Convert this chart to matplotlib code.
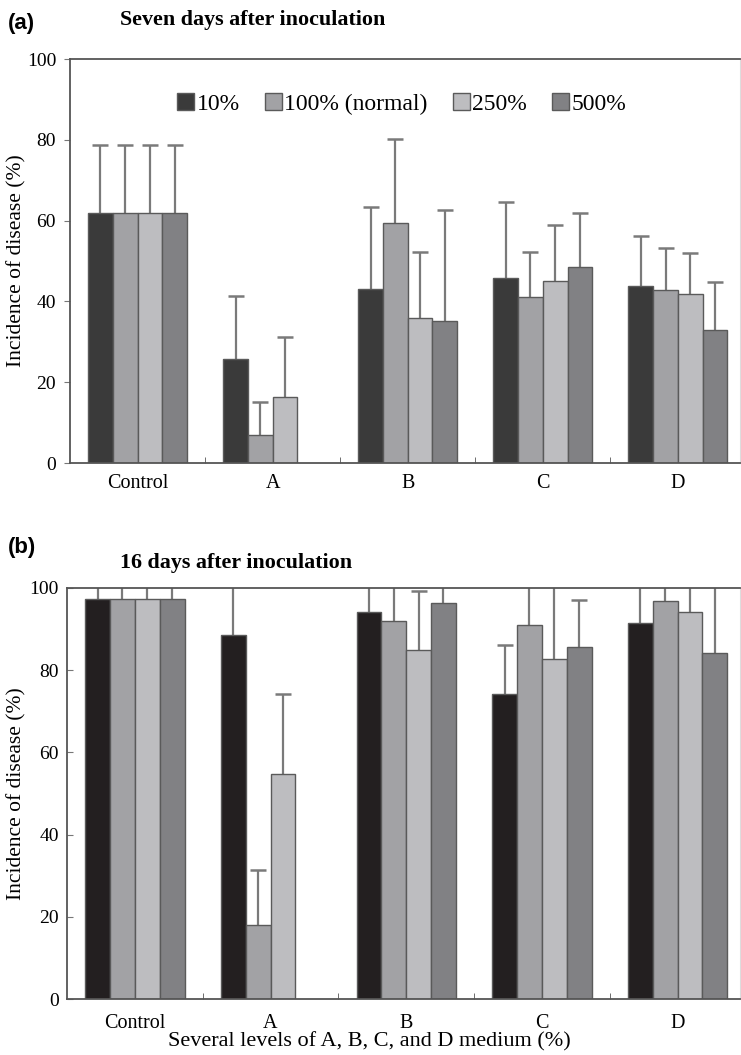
import matplotlib
matplotlib.use("Agg")
import matplotlib.pyplot as plt
import numpy as np
from matplotlib.patches import Patch

categories = ["Control", "A", "B", "C", "D"]
series = ["10%", "100% (normal)", "250%", "500%"]

# Panel (a): seven days after inoculation (NaN = no bar)
a_10 = [62.0, 25.7, 43.1, 45.7, 43.9]
a_100 = [62.0, 6.9, 59.5, 41.0, 42.9]
a_250 = [62.0, 16.3, 35.9, 45.1, 41.9]
a_500 = [62.0, np.nan, 35.2, 48.4, 32.8]
a_err_10 = [16.7, 15.7, 20.3, 18.9, 12.4]
a_err_100 = [16.7, 8.2, 20.6, 11.3, 10.4]
a_err_250 = [16.7, 15.0, 16.4, 13.9, 10.2]
a_err_500 = [16.7, np.nan, 27.4, 13.6, 11.9]

# Panel (b): 16 days after inoculation
b_10 = [97.4, 88.6, 94.2, 74.3, 91.4]
b_100 = [97.4, 17.9, 92.0, 91.0, 96.9]
b_250 = [97.4, 54.7, 84.9, 82.8, 94.2]
b_500 = [97.4, np.nan, 96.4, 85.6, 84.3]
b_err_10 = [12.0, 15.0, 10.0, 11.9, 12.0]
b_err_100 = [12.0, 13.4, 12.0, 12.0, 10.0]
b_err_250 = [12.0, 19.4, 14.4, 20.0, 10.0]
b_err_500 = [12.0, np.nan, 10.0, 11.6, 18.0]

yticks = [0, 20, 40, 60, 80, 100]

colors_a = ["#3a3a3a", "#a2a2a5", "#bdbdc0", "#818184"]
colors_b = ["#231f20", "#a2a2a5", "#bdbdc0", "#818184"]
edge = "#5a5a5a"
errc = "#7a7a7a"

serif = "Liberation Serif"

fig = plt.figure(figsize=(7.41, 10.55), dpi=100)
ax_a = fig.add_axes([70/741, 1-463/1055, 670/741, 404/1055])
ax_b = fig.add_axes([67/741, 1-999/1055, 673/741, 411/1055])

w = 0.183
offsets = np.array([-1.5, -0.5, 0.5, 1.5]) * w
x = np.arange(len(categories))

def draw(ax, vals, errs, colors, xpad):
    for i, (v, e) in enumerate(zip(vals, errs)):
        v = np.array(v, dtype=float)
        e = np.array(e, dtype=float)
        xs = x + offsets[i]
        ax.bar(xs, v, width=w, color=colors[i], edgecolor=edge,
               linewidth=1.0, zorder=2)
        ax.vlines(xs, v, v + e, colors=errc, linewidth=1.6, zorder=1)
        ax.plot(xs, v + e, linestyle="none", marker="_", markersize=11,
                markeredgewidth=1.8, color=errc, zorder=1)
    ax.set_xlim(-0.5, 4.46)
    ax.set_ylim(0, 100)
    ax.set_xticks(x)
    ax.set_xticklabels(categories, fontfamily=serif, fontsize=14.5)
    ax.set_xticks(x[:-1] + 0.5, minor=True)
    ax.tick_params(axis="x", which="major", length=0, pad=xpad)
    ax.tick_params(axis="x", which="minor", direction="in", length=4, color="#555555")
    ax.set_yticks(yticks)
    ax.set_yticklabels([str(t) for t in yticks], fontfamily=serif, fontsize=14)
    ax.tick_params(axis="y", length=4, color="#777777", pad=6)
    for s in ["left", "top", "bottom"]:
        ax.spines[s].set_color("#555555")
        ax.spines[s].set_linewidth(1.3)
    ax.spines["right"].set_color("#dddddd")
    ax.set_ylabel("Incidence of disease (%)", fontfamily=serif, fontsize=15.5)

draw(ax_a, [a_10, a_100, a_250, a_500], [a_err_10, a_err_100, a_err_250, a_err_500],
     colors_a, 8)
draw(ax_b, [b_10, b_100, b_250, b_500], [b_err_10, b_err_100, b_err_250, b_err_500],
     colors_b, 11)
ax_a.tick_params(axis="y", direction="out")
ax_b.tick_params(axis="y", direction="in")
ax_a.yaxis.set_label_coords(-44/670, 0.5)
ax_b.yaxis.set_label_coords(-41/673, 0.5)

handles = [Patch(facecolor=c, edgecolor=edge) for c in colors_a]
ax_a.legend(handles, series, loc="center", bbox_to_anchor=(0.495, 0.888), ncol=4,
            frameon=False, prop={"family": serif, "size": 17}, handlelength=0.72,
            handleheight=0.72, handletextpad=0.12, columnspacing=1.05)

fig.text(369/741, 1-1042/1055, "Several levels of A, B, C, and D medium (%)",
         fontfamily=serif, fontsize=16, ha="center", va="center")

fig.text(8/741, 1-24/1055, "(a)", fontfamily="Liberation Sans", fontweight="bold",
         fontsize=16, va="center", ha="left")
fig.text(120/741, 1-20/1055, "Seven days after inoculation", fontfamily=serif,
         fontweight="bold", fontsize=15.8, va="center", ha="left")
fig.text(8/741, 1-547/1055, "(b)", fontfamily="Liberation Sans", fontweight="bold",
         fontsize=16, va="center", ha="left")
fig.text(120/741, 1-563/1055, "16 days after inoculation", fontfamily=serif,
         fontweight="bold", fontsize=15.8, va="center", ha="left")

fig.savefig("out.png", dpi=100)
